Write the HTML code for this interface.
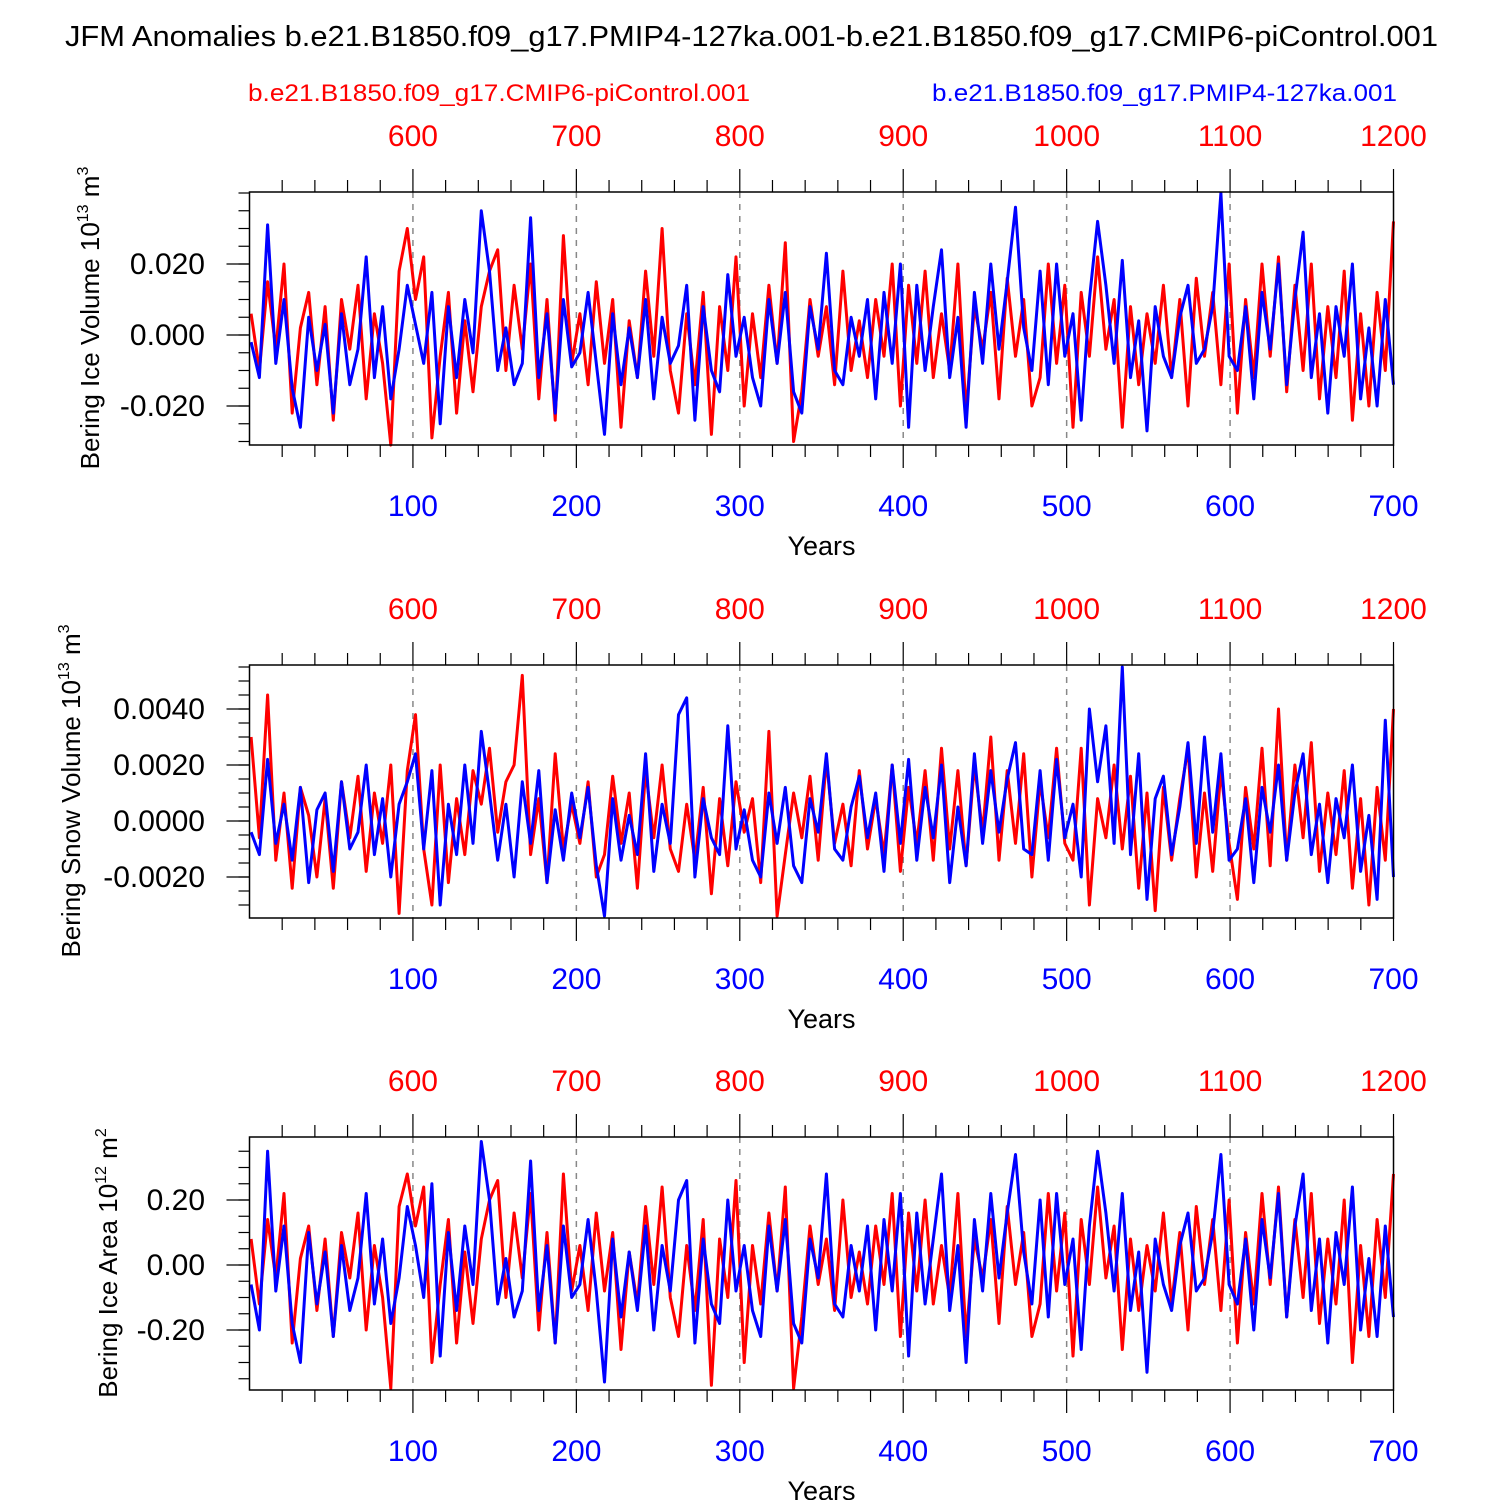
<!DOCTYPE html>
<html><head><meta charset="utf-8"><style>
html,body{margin:0;padding:0;background:#fff}
svg{display:block;font-family:"Liberation Sans",sans-serif}
</style></head><body>
<svg id="chart" width="1500" height="1500" viewBox="0 0 1500 1500" xmlns="http://www.w3.org/2000/svg">
<rect width="1500" height="1500" fill="#fff"/>
<text x="65" y="46" font-size="29" textLength="1373" lengthAdjust="spacingAndGlyphs">JFM Anomalies b.e21.B1850.f09_g17.PMIP4-127ka.001-b.e21.B1850.f09_g17.CMIP6-piControl.001</text>
<text x="248" y="101" font-size="24" fill="#f00" textLength="502" lengthAdjust="spacingAndGlyphs">b.e21.B1850.f09_g17.CMIP6-piControl.001</text>
<text x="932" y="101" font-size="24" fill="#00f" textLength="465" lengthAdjust="spacingAndGlyphs">b.e21.B1850.f09_g17.PMIP4-127ka.001</text>
</svg>
<script>
const bottomTicks=[100,200,300,400,500,600,700];
const topTickLabels=["600","700","800","900","1000","1100","1200"];
const p1Blue=[-2,-12,31,-8,10,-15,-26,5,-10,3,-22,6,-14,-4,22,-12,8,-18,-4,14,3,-8,12,-25,8,-12,10,-5,35,18,-10,2,-14,-8,33,-12,6,-22,10,-9,-5,12,-8,-28,6,-14,2,-12,10,-18,5,-8,-3,14,-24,8,-10,-16,17,-6,5,-12,-20,10,-8,12,-16,-22,8,-4,23,-10,-14,5,-6,10,-18,12,-8,20,-26,14,-10,8,24,-12,5,-26,12,-8,20,-4,15,36,2,-10,18,-14,20,-6,6,-24,10,32,14,-8,21,-12,4,-27,8,-6,-12,5,14,-8,-4,8,40,-6,-10,8,-18,12,-4,20,-14,10,29,-12,6,-22,8,-6,20,-18,2,-20,10,-14];
const p1Red=[6,-10,15,-4,20,-22,2,12,-14,8,-24,10,-4,14,-18,6,-8,-31,18,30,10,22,-29,-6,12,-22,4,-16,8,18,24,-10,14,-4,20,-18,10,-24,28,-8,6,-14,15,-8,10,-26,4,-12,18,-6,30,-10,-22,6,-14,12,-28,8,-10,22,-20,6,-12,14,-8,26,-30,-16,10,-6,8,-14,18,-10,4,-12,10,-6,20,-20,14,-8,18,-12,6,-10,20,-22,8,-4,12,-18,16,-6,10,-20,-12,20,-8,14,-26,12,-6,22,-4,10,-26,8,-14,6,-8,14,-12,10,-20,16,-6,12,-14,20,-22,10,-12,20,-6,22,-16,14,-10,20,-18,8,-12,18,-24,6,-20,12,-10,32];
const p2Blue=[-4,-12,22,-8,6,-14,12,-22,4,10,-18,14,-10,-4,20,-12,8,-20,6,14,24,-10,18,-30,6,-12,20,-8,32,10,-14,6,-20,14,-8,18,-22,4,-14,10,-6,12,-16,-34,8,-14,2,-12,24,-18,6,-8,38,44,-20,8,-6,-12,34,-10,4,-14,-20,10,-8,12,-16,-22,8,-4,24,-10,-14,5,16,-6,10,-18,20,-8,22,-14,12,-6,20,-22,5,-16,24,-8,18,-4,15,28,-10,-12,18,-14,22,-6,6,-20,40,14,34,-8,55,-12,24,-28,8,16,-12,5,28,-8,30,-4,24,-14,-10,8,-22,12,-4,20,-14,10,24,-12,6,-22,8,-6,20,-18,2,-28,36,-20];
const p2Red=[30,-6,45,-14,10,-24,12,2,-20,8,-24,14,-6,16,-18,10,-8,20,-33,18,38,-10,-30,20,-22,8,-12,18,6,26,-4,14,20,52,-12,8,-22,24,-10,6,-8,14,-20,-12,16,-8,10,-24,18,-6,20,-10,-18,6,-14,12,-26,8,-16,14,-4,8,-22,32,-34,-12,10,-6,16,-14,22,-8,6,-16,18,-10,8,-12,20,-18,12,-8,18,-14,26,-10,18,-16,20,-4,30,-14,18,-8,24,-20,14,-6,26,-8,-14,26,-30,8,-6,20,-10,16,-24,10,-32,12,-14,8,26,-20,10,-18,18,-8,-28,12,-10,26,-16,40,-14,20,-6,28,-18,10,-12,18,-24,8,-30,12,-14,40];
const p3Blue=[-6,-20,35,-8,12,-18,-30,10,-12,4,-22,6,-14,-4,22,-12,8,-18,-4,18,6,-10,25,-28,10,-14,12,-6,38,20,-12,2,-16,-8,32,-14,6,-24,12,-10,-6,14,-8,-36,8,-16,4,-14,12,-20,6,-8,20,26,-24,8,-12,-18,20,-8,6,-14,-22,12,-8,14,-18,-24,8,-4,28,-12,-16,6,-8,12,-20,14,-8,22,-28,16,-12,8,28,-14,6,-30,14,-8,22,-4,16,34,4,-12,20,-16,22,-6,8,-26,12,35,16,-8,22,-14,4,-33,8,-6,-14,6,16,-8,-4,10,34,-6,-12,8,-20,14,-4,22,-16,12,28,-14,8,-24,10,-6,24,-20,2,-22,12,-16];
const p3Red=[8,-12,14,-4,22,-24,2,12,-14,8,-22,10,-4,16,-20,6,-10,-38,18,28,12,24,-30,-6,14,-24,4,-18,8,20,26,-10,16,-4,22,-20,10,-24,28,-8,6,-14,16,-8,10,-26,4,-12,18,-6,24,-10,-22,6,-14,14,-37,8,-10,26,-30,6,-12,16,-8,24,-38,-16,12,-6,8,-14,20,-10,4,-12,12,-6,22,-22,16,-8,20,-12,6,-10,22,-22,8,-4,14,-18,18,-6,10,-22,-12,22,-8,16,-28,14,-6,24,-4,12,-26,8,-14,6,-8,16,-12,10,-20,18,-6,14,-14,20,-24,10,-12,22,-6,24,-16,14,-10,22,-18,8,-12,20,-30,6,-22,14,-10,28];

const NS="http://www.w3.org/2000/svg";
const svg=document.getElementById('chart');
const X0=249.5,XS=1.6343;
const xs=y=>X0+y*XS;
function mk(tag,attrs,parent){const e=document.createElementNS(NS,tag);for(const k in attrs)e.setAttribute(k,attrs[k]);(parent||svg).appendChild(e);return e;}
const panels=[
 {top:192,zero:335,ppu:3550,scale:0.001,blue:p1Blue,red:p1Red,major:[-0.02,0,0.02],labels:["-0.020","0.000","0.020"],minor:0.005,lo:-0.03,hi:0.04,ylab:["Bering Ice Volume 10","13"," m","3"],ylx:90,name:"ice-volume"},
 {top:665,zero:821,ppu:28000,scale:0.0001,blue:p2Blue,red:p2Red,major:[-0.002,0,0.002,0.004],labels:["-0.0020","0.0000","0.0020","0.0040"],minor:0.0005,lo:-0.0035,hi:0.0055,ylab:["Bering Snow Volume 10","13"," m","3"],ylx:71,name:"snow-volume"},
 {top:1137,zero:1265,ppu:325,scale:0.01,blue:p3Blue,red:p3Red,major:[-0.2,0,0.2],labels:["-0.20","0.00","0.20"],minor:0.05,lo:-0.38,hi:0.39,ylab:["Bering Ice Area 10","12"," m","2"],ylx:108,name:"ice-area"}
];
panels.forEach((p,pi)=>{
 const g=mk('g',{});
 
 
 const bot=p.top+253;
 const ys=v=>p.zero-v*p.ppu;
 bottomTicks.forEach(t=>{if(t<700){const l=mk('line',{x1:xs(t),x2:xs(t),y1:p.top,y2:bot,stroke:'#888','stroke-width':1.5,'stroke-dasharray':'6,6'},g);}});
 [[p.red,'#f00','red-series'],[p.blue,'#00f','blue-series']].forEach(([arr,col,nm])=>{
  const n=arr.length;
  const pts=arr.map((v,i)=>{const yr=1+i*699/(n-1);return xs(yr).toFixed(1)+','+ys(v*p.scale).toFixed(1);}).join(' ');
  const pl=mk('polyline',{points:pts,fill:'none',stroke:col,'stroke-width':3,'stroke-linejoin':'round'},g);
  
  
 });
 const b=mk('rect',{x:xs(0),y:p.top,width:xs(700)-xs(0),height:253,fill:'none',stroke:'#000','stroke-width':1.5},g);
 
 
 for(let t=20;t<=700;t+=20){
  const maj=t%100===0, L=maj?23:12;
  mk('line',{x1:xs(t),x2:xs(t),y1:bot,y2:bot+L,stroke:'#000','stroke-width':1.2},g);
  mk('line',{x1:xs(t),x2:xs(t),y1:p.top,y2:p.top-L,stroke:'#000','stroke-width':1.2},g);
 }
 bottomTicks.forEach((t,i)=>{
  const a=mk('text',{x:xs(t),y:bot+71,'font-size':30,fill:'#00f','text-anchor':'middle'},g);a.textContent=t;
  
  const c=mk('text',{x:xs(t),y:p.top-46,'font-size':30,fill:'#f00','text-anchor':'middle'},g);c.textContent=topTickLabels[i];
  
 });
 const yl=mk('text',{x:xs(350),y:bot+110,'font-size':27,'text-anchor':'middle'},g);yl.textContent='Years';
 
 for(let k=Math.ceil(p.lo/p.minor);k*p.minor<=p.hi+1e-12;k++){
  const v=k*p.minor,y=ys(v);if(y<p.top-0.5||y>bot+0.5)continue;
  mk('line',{x1:xs(0)-11,x2:xs(0),y1:y,y2:y,stroke:'#000','stroke-width':1.2},g);
 }
 p.major.forEach((v,i)=>{
  const y=ys(v);
  mk('line',{x1:xs(0)-23,x2:xs(0),y1:y,y2:y,stroke:'#000','stroke-width':1.2},g);
  const t=mk('text',{x:205,y:y+10,'font-size':30,'text-anchor':'end'},g);t.textContent=p.labels[i];
  
 });
 const cy=p.top+126;
 const yt=mk('text',{x:p.ylx,y:cy,'font-size':26,'text-anchor':'middle',transform:`rotate(-90 ${p.ylx} ${cy})`,dy:9},g);
 
 p.ylab.forEach((s,i)=>{const ts=mk('tspan',{},yt);if(i%2===1){ts.setAttribute('font-size',16);ts.setAttribute('dy',-11);}else if(i===2){ts.setAttribute('dy',11);}ts.textContent=s;});
});
</script>
</body></html>
